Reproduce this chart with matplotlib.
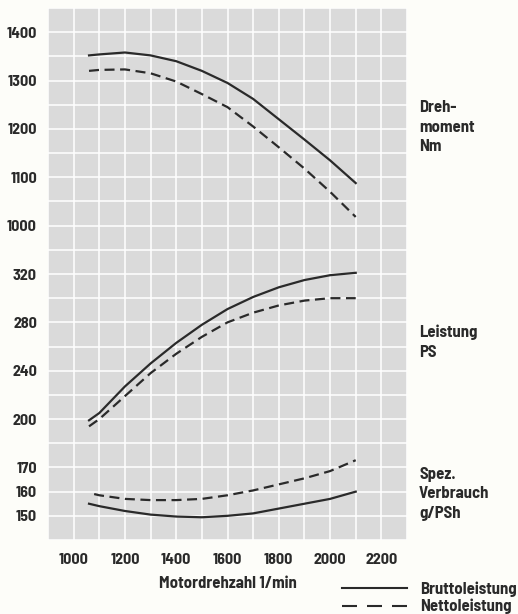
import matplotlib
matplotlib.use("Agg")
import matplotlib.pyplot as plt
from matplotlib.lines import Line2D
from matplotlib.ticker import MultipleLocator

# engine speed (1/min)
rpm = [1060, 1100, 1200, 1300, 1400, 1500, 1600, 1700, 1800, 1900, 2000, 2100]
rpm_cons_netto = [1080, 1100, 1200, 1300, 1400, 1500, 1600, 1700, 1800, 1900, 2000, 2100]

# torque Nm
torque_brutto = [1352, 1354, 1358, 1352, 1340, 1320, 1295, 1262, 1220, 1178, 1135, 1088]
torque_netto = [1320, 1322, 1323, 1315, 1298, 1272, 1245, 1205, 1162, 1118, 1070, 1018]

# power PS
power_brutto = [199, 205, 227, 246, 263, 278, 291, 301, 309, 315, 319, 321]
power_netto = [194, 200, 219, 238, 254, 268, 280, 288, 294, 298, 300, 300]

# specific consumption g/PSh
cons_brutto = [155, 154, 152, 150.5, 149.7, 149.4, 150, 151, 153, 155, 157, 160]
cons_netto = [159, 158.5, 157, 156.5, 156.5, 157, 158.5, 160.5, 163, 165.5, 168.5, 173]

x_ticks = [1000, 1200, 1400, 1600, 1800, 2000, 2200]
panel_labels = ["Dreh-\nmoment\nNm", "Leistung\nPS", "Spez.\nVerbrauch\ng/PSh"]
legend_labels = ["Bruttoleistung", "Nettoleistung"]

plt.rcParams['font.family'] = ['Barlow Semi Condensed', 'DejaVu Sans']
plt.rcParams['font.weight'] = 'bold'
plt.rcParams['axes.labelweight'] = 'bold'
plt.rcParams['font.size'] = 11.5

ink = '#2a2a2a'
bg = '#dadada'
dash = (0, (4.5, 2.5))

fig = plt.figure(figsize=(5.18, 6.14), dpi=100, facecolor='#fdfdf9')
gs = fig.add_gridspec(3, 1, height_ratios=[10, 8, 4], hspace=0,
                      left=48 / 518, right=407 / 518,
                      top=1 - 8 / 614, bottom=1 - 540 / 614)
ax_t = fig.add_subplot(gs[0])
ax_p = fig.add_subplot(gs[1], sharex=ax_t)
ax_c = fig.add_subplot(gs[2], sharex=ax_t)

ax_t.plot(rpm, torque_brutto, color=ink, lw=1.6)
ax_t.plot(rpm, torque_netto, color=ink, lw=1.6, ls=dash)
ax_t.set_ylim(950, 1450)
ax_t.set_yticks([1000, 1100, 1200, 1300, 1400])
ax_t.yaxis.set_minor_locator(MultipleLocator(50))

ax_p.plot(rpm, power_brutto, color=ink, lw=1.6)
ax_p.plot(rpm, power_netto, color=ink, lw=1.6, ls=dash)
ax_p.set_ylim(180, 340)
ax_p.set_yticks([200, 240, 280, 320])
ax_p.yaxis.set_minor_locator(MultipleLocator(20))

ax_c.plot(rpm, cons_brutto, color=ink, lw=1.6)
ax_c.plot(rpm_cons_netto, cons_netto, color=ink, lw=1.6, ls=dash)
ax_c.set_ylim(140, 180)
ax_c.set_yticks([150, 160, 170])
ax_c.yaxis.set_minor_locator(MultipleLocator(10))

ax_c.set_xlim(900, 2300)
ax_c.set_xticks(x_ticks)
ax_c.xaxis.set_minor_locator(MultipleLocator(100))

for ax in (ax_t, ax_p, ax_c):
    ax.set_facecolor(bg)
    for s in ax.spines.values():
        s.set_visible(False)
    ax.grid(True, which='both', color='white', lw=1.1)
    ax.set_axisbelow(True)
    ax.tick_params(which='both', length=0, colors=ink, labelsize=11.5, pad=8)
    ax.tick_params(axis='x', labelbottom=False)
ax_c.tick_params(axis='x', labelbottom=True, pad=9)

ax_c.set_xlabel("Motordrehzahl 1/min", color=ink, fontsize=12, labelpad=7)

for lab, yc in zip(panel_labels, [127, 342, 494]):
    fig.text(419 / 518, 1 - yc / 614, lab, ha='left', va='center',
             color=ink, fontsize=12, linespacing=1.38)

handles = [Line2D([], [], color=ink, lw=1.5),
           Line2D([], [], color=ink, lw=1.5, ls=(0, (7.2, 4.8)))]
fig.legend(handles, legend_labels, loc='lower right',
           bbox_to_anchor=(1.026, -0.025), frameon=False, handlelength=3.9,
           handletextpad=0.75, labelspacing=0.12, fontsize=12,
           labelcolor=ink)

fig.savefig("out.png", dpi=100, facecolor=fig.get_facecolor())
